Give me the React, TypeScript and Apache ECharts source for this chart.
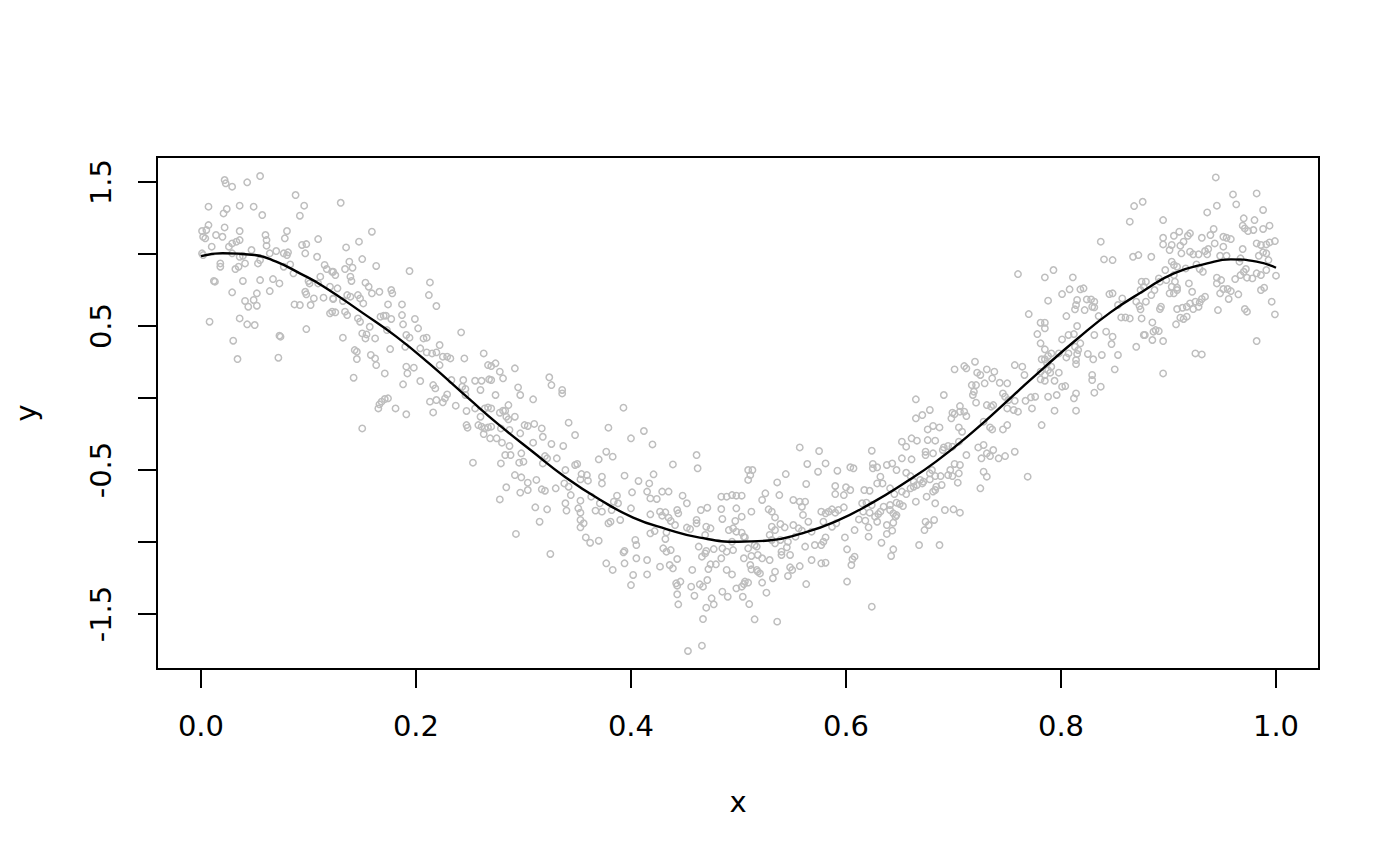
import React, { useEffect, useRef } from "react";
import * as echarts from "echarts";

// Tick values
const xTicks = [0, 0.2, 0.4, 0.6, 0.8, 1.0];
const yTicks = [-1.5, -1.0, -0.5, 0, 0.5, 1.0, 1.5];
const yLabels = [-1.5, -0.5, 0.5, 1.5];

// Scatter points (x, y), grouped by x range
const pointsA = [[0.022,1.514],[0.023,1.491],[0.029,1.468],[0.043,1.498],[0.055,1.542],[0.088,1.41],[0.096,1.336],[0.092,1.266],[0.007,1.329],[0.021,1.282],[0.024,1.313],[0.036,1.336],[0.049,1.329],[0.057,1.271],[0.001,1.16],[0.007,1.201],[0.005,1.167],[0.002,1.12],[0.014,1.132],[0.020,1.12],[0.022,1.185],[0.036,1.16],[0.029,1.074],[0.033,1.086],[0.036,1.097],[0.026,1.051],[0.010,1.051],[0.004,1.109],[0.060,1.132],[0.061,1.097],[0.080,1.16],[0.078,1.109],[0.061,1.058],[0.094,1.063],[0.098,1.069],[0.109,1.104],[0.001,1.005],[0.002,0.993],[0.029,1.005],[0.039,0.988],[0.036,0.981],[0.047,1.028],[0.055,0.958],[0.053,0.935],[0.041,0.935],[0.064,1.005],[0.070,1.021],[0.077,1.005],[0.081,1.012],[0.080,0.993],[0.097,1.005],[0.108,0.981],[0.018,0.935],[0.018,0.912],[0.032,0.896],[0.035,0.912],[0.083,0.928],[0.086,0.866],[0.077,0.912],[0.115,0.924],[0.117,0.896],[0.122,0.877],[0.111,0.843],[0.012,0.813],[0.013,0.808],[0.039,0.813],[0.055,0.819],[0.067,0.826],[0.073,0.796],[0.100,0.813],[0.101,0.796],[0.109,0.796],[0.120,0.773],[0.029,0.734],[0.052,0.727],[0.064,0.743],[0.097,0.738],[0.098,0.72],[0.105,0.692],[0.114,0.697],[0.123,0.692],[0.041,0.674],[0.049,0.681],[0.044,0.634],[0.052,0.641],[0.087,0.65],[0.092,0.646],[0.102,0.646],[0.120,0.588],[0.008,0.53],[0.036,0.553],[0.043,0.512],[0.050,0.507],[0.098,0.479],[0.030,0.398],[0.073,0.433],[0.074,0.426],[0.034,0.271],[0.072,0.28]];

const pointsB = [[0.130,1.356],[0.159,1.155],[0.147,1.086],[0.135,1.046],[0.150,0.965],[0.163,0.917],[0.138,0.947],[0.134,0.896],[0.141,0.905],[0.194,0.882],[0.123,0.877],[0.125,0.854],[0.139,0.843],[0.140,0.813],[0.153,0.801],[0.156,0.773],[0.127,0.762],[0.213,0.803],[0.212,0.715],[0.219,0.639],[0.159,0.727],[0.166,0.738],[0.177,0.75],[0.178,0.727],[0.136,0.715],[0.139,0.704],[0.146,0.715],[0.148,0.692],[0.123,0.688],[0.132,0.674],[0.151,0.657],[0.174,0.65],[0.187,0.65],[0.122,0.6],[0.125,0.595],[0.134,0.6],[0.136,0.576],[0.146,0.553],[0.148,0.53],[0.167,0.565],[0.170,0.572],[0.172,0.572],[0.177,0.549],[0.187,0.576],[0.188,0.512],[0.199,0.549],[0.202,0.484],[0.157,0.495],[0.150,0.449],[0.153,0.414],[0.154,0.442],[0.162,0.414],[0.132,0.419],[0.173,0.472],[0.191,0.438],[0.194,0.419],[0.207,0.414],[0.210,0.419],[0.242,0.456],[0.190,0.356],[0.204,0.345],[0.176,0.34],[0.210,0.317],[0.215,0.31],[0.219,0.317],[0.222,0.368],[0.225,0.287],[0.229,0.287],[0.232,0.275],[0.245,0.275],[0.143,0.333],[0.145,0.322],[0.145,0.271],[0.158,0.299],[0.162,0.275],[0.163,0.229],[0.222,0.229],[0.171,0.171],[0.191,0.218],[0.198,0.211],[0.192,0.171],[0.188,0.095],[0.204,0.118],[0.216,0.09],[0.218,0.067],[0.142,0.141],[0.233,0.125],[0.244,0.125],[0.243,0.079],[0.246,0.063],[0.229,0.025],[0.227,-0.002],[0.219,-0.014],[0.213,-0.025],[0.225,-0.03],[0.237,-0.053],[0.216,-0.1],[0.247,-0.09],[0.166,-0.044],[0.168,-0.025],[0.171,-0.007],[0.174,-0.002],[0.165,-0.072],[0.181,-0.072],[0.191,-0.113],[0.150,-0.211],[0.247,-0.188],[0.248,-0.206]];

const pointsC = [[0.246,0.021],[0.263,0.31],[0.267,0.229],[0.270,0.222],[0.274,0.241],[0.278,0.183],[0.281,0.137],[0.292,0.206],[0.255,0.12],[0.261,0.12],[0.268,0.13],[0.270,0.125],[0.260,0.056],[0.274,0.021],[0.295,0.074],[0.297,0.021],[0.309,-0.009],[0.324,0.144],[0.326,0.09],[0.336,0.056],[0.336,0.032],[0.255,-0.072],[0.264,-0.072],[0.267,-0.065],[0.270,-0.072],[0.260,-0.13],[0.278,-0.102],[0.281,-0.088],[0.283,-0.088],[0.286,-0.049],[0.284,-0.13],[0.292,-0.13],[0.286,-0.148],[0.258,-0.188],[0.261,-0.199],[0.264,-0.211],[0.267,-0.204],[0.270,-0.199],[0.263,-0.25],[0.269,-0.28],[0.275,-0.28],[0.279,-0.211],[0.287,-0.222],[0.297,-0.245],[0.301,-0.188],[0.304,-0.194],[0.310,-0.18],[0.317,-0.211],[0.318,-0.269],[0.342,-0.171],[0.348,-0.257],[0.280,-0.31],[0.287,-0.333],[0.298,-0.384],[0.309,-0.31],[0.326,-0.319],[0.337,-0.333],[0.253,-0.449],[0.279,-0.454],[0.283,-0.396],[0.288,-0.396],[0.296,-0.449],[0.300,-0.442],[0.292,-0.535],[0.298,-0.551],[0.304,-0.588],[0.312,-0.569],[0.320,-0.403],[0.322,-0.419],[0.318,-0.454],[0.331,-0.419],[0.339,-0.5],[0.348,-0.465],[0.350,-0.458],[0.354,-0.528],[0.359,-0.535],[0.353,-0.565],[0.360,-0.574],[0.284,-0.62],[0.297,-0.657],[0.304,-0.639],[0.317,-0.634],[0.320,-0.644],[0.330,-0.627],[0.338,-0.593],[0.342,-0.616],[0.344,-0.674],[0.353,-0.713],[0.339,-0.731],[0.340,-0.782],[0.351,-0.766],[0.353,-0.796],[0.367,-0.782],[0.278,-0.704],[0.311,-0.759],[0.322,-0.773],[0.315,-0.859],[0.353,-0.847],[0.356,-0.87],[0.353,-0.898],[0.293,-0.944],[0.358,-0.968],[0.362,-1.005],[0.370,-0.991],[0.325,-1.083],[0.363,-0.685],[0.371,-0.731],[0.373,-0.789],[0.370,-0.426],[0.373,-0.546],[0.373,-0.593]];

const pointsD = [[0.393,-0.067],[0.379,-0.206],[0.400,-0.28],[0.412,-0.229],[0.420,-0.322],[0.377,-0.373],[0.383,-0.407],[0.439,-0.461],[0.461,-0.396],[0.462,-0.488],[0.394,-0.539],[0.407,-0.576],[0.417,-0.593],[0.421,-0.53],[0.415,-0.65],[0.418,-0.697],[0.424,-0.701],[0.429,-0.65],[0.435,-0.65],[0.401,-0.655],[0.387,-0.678],[0.388,-0.731],[0.384,-0.72],[0.400,-0.766],[0.382,-0.778],[0.390,-0.847],[0.381,-0.859],[0.379,-0.87],[0.448,-0.678],[0.452,-0.731],[0.465,-0.778],[0.471,-0.762],[0.484,-0.685],[0.489,-0.685],[0.494,-0.674],[0.498,-0.678],[0.484,-0.771],[0.498,-0.766],[0.418,-0.808],[0.427,-0.789],[0.432,-0.794],[0.429,-0.817],[0.435,-0.831],[0.437,-0.854],[0.443,-0.778],[0.444,-0.801],[0.441,-0.882],[0.418,-0.94],[0.422,-0.924],[0.433,-0.933],[0.432,-0.979],[0.452,-0.9],[0.455,-0.91],[0.461,-0.847],[0.461,-0.87],[0.470,-0.894],[0.474,-0.905],[0.469,-0.951],[0.485,-0.84],[0.491,-0.917],[0.495,-0.905],[0.497,-0.854],[0.498,-0.928],[0.494,-0.998],[0.404,-0.986],[0.405,-1.021],[0.394,-1.062],[0.393,-1.072],[0.430,-1.044],[0.433,-1.067],[0.437,-1.056],[0.443,-1.118],[0.436,-1.16],[0.439,-1.183],[0.427,-1.171],[0.415,-1.125],[0.405,-1.113],[0.377,-1.148],[0.383,-1.194],[0.394,-1.148],[0.402,-1.229],[0.415,-1.225],[0.463,-1.032],[0.466,-1.102],[0.469,-1.079],[0.470,-1.062],[0.477,-1.049],[0.485,-1.044],[0.489,-1.067],[0.495,-1.056],[0.474,-1.155],[0.479,-1.155],[0.472,-1.188],[0.484,-1.113],[0.489,-1.194],[0.494,-1.225],[0.457,-1.194],[0.442,-1.287],[0.446,-1.275],[0.443,-1.303],[0.456,-1.31],[0.464,-1.294],[0.467,-1.31],[0.471,-1.264],[0.400,-1.299],[0.443,-1.363],[0.459,-1.373],[0.475,-1.391],[0.477,-1.433],[0.470,-1.456],[0.485,-1.345],[0.490,-1.38],[0.444,-1.433],[0.467,-1.535],[0.453,-1.757],[0.466,-1.72],[0.498,-1.322]];

const pointsE = [[0.557,-0.343],[0.575,-0.368],[0.564,-0.458],[0.581,-0.454],[0.509,-0.5],[0.511,-0.535],[0.513,-0.5],[0.509,-0.569],[0.536,-0.586],[0.544,-0.528],[0.563,-0.597],[0.574,-0.512],[0.592,-0.505],[0.604,-0.481],[0.607,-0.488],[0.624,-0.366],[0.625,-0.458],[0.625,-0.488],[0.590,-0.611],[0.600,-0.62],[0.604,-0.639],[0.590,-0.667],[0.598,-0.674],[0.617,-0.639],[0.622,-0.644],[0.503,-0.678],[0.525,-0.662],[0.522,-0.708],[0.538,-0.674],[0.551,-0.708],[0.557,-0.72],[0.562,-0.72],[0.559,-0.755],[0.503,-0.824],[0.512,-0.789],[0.528,-0.773],[0.531,-0.789],[0.534,-0.829],[0.560,-0.812],[0.565,-0.859],[0.577,-0.789],[0.581,-0.801],[0.584,-0.789],[0.587,-0.773],[0.590,-0.796],[0.593,-0.778],[0.598,-0.759],[0.615,-0.731],[0.619,-0.727],[0.624,-0.743],[0.616,-0.789],[0.622,-0.796],[0.503,-0.935],[0.539,-0.875],[0.543,-0.898],[0.531,-0.894],[0.534,-0.917],[0.551,-0.882],[0.556,-0.905],[0.559,-0.921],[0.568,-0.928],[0.579,-0.859],[0.587,-0.894],[0.591,-0.87],[0.612,-0.843],[0.618,-0.852],[0.621,-0.898],[0.608,-0.917],[0.529,-0.951],[0.531,-0.986],[0.539,-0.986],[0.546,-0.998],[0.534,-1.009],[0.506,-0.968],[0.505,-0.963],[0.509,-1.044],[0.517,-1.032],[0.515,-1.021],[0.545,-1.037],[0.540,-1.067],[0.548,-1.09],[0.540,-1.09],[0.553,-0.963],[0.562,-1.032],[0.571,-1.021],[0.577,-1.021],[0.579,-0.998],[0.581,-0.968],[0.599,-0.968],[0.621,-0.963],[0.601,-1.051],[0.608,-1.102],[0.606,-1.12],[0.605,-1.16],[0.577,-1.148],[0.581,-1.144],[0.568,-1.125],[0.557,-1.167],[0.548,-1.176],[0.550,-1.194],[0.546,-1.236],[0.505,-1.113],[0.512,-1.097],[0.518,-1.09],[0.522,-1.113],[0.529,-1.125],[0.511,-1.16],[0.512,-1.19],[0.517,-1.194],[0.518,-1.206],[0.520,-1.218],[0.534,-1.206],[0.532,-1.252],[0.506,-1.275],[0.505,-1.292],[0.503,-1.31],[0.522,-1.282],[0.509,-1.282],[0.563,-1.292],[0.601,-1.275],[0.526,-1.352],[0.504,-1.38],[0.510,-1.431],[0.515,-1.537],[0.536,-1.553],[0.624,-1.449]];

const pointsF = [[0.701,0.199],[0.710,0.222],[0.712,0.206],[0.720,0.252],[0.722,0.176],[0.725,0.16],[0.731,0.199],[0.738,0.183],[0.736,0.137],[0.743,0.106],[0.750,0.102],[0.717,0.09],[0.721,0.09],[0.719,0.044],[0.718,0.021],[0.729,0.102],[0.746,0.032],[0.748,0.009],[0.665,-0.009],[0.691,0.021],[0.721,-0.032],[0.731,-0.049],[0.735,-0.06],[0.737,-0.049],[0.750,-0.072],[0.751,-0.014],[0.678,-0.083],[0.671,-0.118],[0.665,-0.141],[0.699,-0.102],[0.701,-0.111],[0.706,-0.095],[0.710,-0.095],[0.712,-0.125],[0.698,-0.141],[0.706,-0.056],[0.728,-0.164],[0.734,-0.204],[0.736,-0.218],[0.746,-0.218],[0.750,-0.188],[0.676,-0.218],[0.681,-0.194],[0.687,-0.204],[0.705,-0.204],[0.708,-0.234],[0.652,-0.303],[0.656,-0.338],[0.661,-0.28],[0.666,-0.296],[0.676,-0.292],[0.683,-0.296],[0.674,-0.373],[0.674,-0.396],[0.681,-0.384],[0.690,-0.361],[0.691,-0.343],[0.695,-0.333],[0.699,-0.338],[0.705,-0.303],[0.712,-0.396],[0.723,-0.343],[0.728,-0.326],[0.731,-0.384],[0.737,-0.361],[0.742,-0.419],[0.748,-0.403],[0.734,-0.403],[0.726,-0.419],[0.629,-0.481],[0.638,-0.465],[0.643,-0.454],[0.652,-0.419],[0.661,-0.426],[0.647,-0.5],[0.656,-0.519],[0.660,-0.542],[0.663,-0.581],[0.669,-0.569],[0.671,-0.593],[0.678,-0.523],[0.680,-0.5],[0.683,-0.542],[0.678,-0.565],[0.688,-0.542],[0.697,-0.5],[0.701,-0.458],[0.706,-0.465],[0.705,-0.523],[0.695,-0.535],[0.699,-0.542],[0.704,-0.588],[0.728,-0.512],[0.731,-0.546],[0.725,-0.627],[0.632,-0.546],[0.629,-0.593],[0.634,-0.593],[0.641,-0.627],[0.645,-0.667],[0.652,-0.65],[0.656,-0.667],[0.660,-0.627],[0.663,-0.616],[0.666,-0.604],[0.672,-0.581],[0.675,-0.685],[0.683,-0.639],[0.684,-0.616],[0.689,-0.604],[0.681,-0.65],[0.665,-0.72],[0.683,-0.731],[0.647,-0.727],[0.650,-0.736],[0.653,-0.75],[0.641,-0.743],[0.635,-0.755],[0.632,-0.789],[0.630,-0.806],[0.627,-0.824],[0.641,-0.778],[0.644,-0.801],[0.646,-0.824],[0.647,-0.813],[0.644,-0.866],[0.629,-0.859],[0.638,-0.882],[0.643,-0.921],[0.674,-0.859],[0.677,-0.882],[0.682,-0.847],[0.673,-0.917],[0.692,-0.778],[0.700,-0.773],[0.706,-0.796],[0.638,-0.944],[0.633,-1.005],[0.668,-1.021],[0.687,-1.021],[0.644,-1.051],[0.642,-1.097]];

const pointsG = [[0.868,1.333],[0.876,1.363],[0.864,1.225],[0.837,1.086],[0.840,0.963],[0.848,0.958],[0.867,0.981],[0.872,0.993],[0.760,0.861],[0.785,0.838],[0.793,0.889],[0.811,0.838],[0.875,0.808],[0.877,0.773],[0.874,0.75],[0.808,0.755],[0.801,0.722],[0.818,0.755],[0.821,0.762],[0.788,0.676],[0.815,0.681],[0.814,0.646],[0.813,0.616],[0.824,0.685],[0.828,0.685],[0.831,0.669],[0.829,0.634],[0.831,0.63],[0.822,0.611],[0.805,0.569],[0.835,0.569],[0.845,0.722],[0.848,0.727],[0.857,0.692],[0.853,0.646],[0.856,0.56],[0.860,0.56],[0.864,0.553],[0.870,0.669],[0.873,0.639],[0.874,0.616],[0.875,0.553],[0.770,0.583],[0.781,0.523],[0.785,0.523],[0.785,0.484],[0.778,0.444],[0.815,0.5],[0.807,0.438],[0.801,0.407],[0.812,0.444],[0.818,0.38],[0.813,0.356],[0.816,0.333],[0.815,0.306],[0.805,0.282],[0.807,0.31],[0.798,0.31],[0.791,0.31],[0.781,0.38],[0.785,0.338],[0.788,0.292],[0.782,0.269],[0.785,0.269],[0.787,0.241],[0.842,0.461],[0.848,0.426],[0.847,0.375],[0.831,0.438],[0.825,0.306],[0.830,0.269],[0.838,0.299],[0.853,0.299],[0.870,0.356],[0.877,0.438],[0.757,0.229],[0.764,0.218],[0.766,0.16],[0.781,0.183],[0.785,0.16],[0.781,0.13],[0.785,0.12],[0.788,0.194],[0.790,0.176],[0.791,0.218],[0.798,0.176],[0.794,0.12],[0.801,0.079],[0.804,0.083],[0.814,0.264],[0.814,0.236],[0.829,0.16],[0.829,0.125],[0.837,0.079],[0.831,0.037],[0.814,0.032],[0.812,-0.002],[0.850,0.199],[0.757,-0.019],[0.756,-0.083],[0.760,-0.095],[0.767,-0.019],[0.772,0.005],[0.776,0.009],[0.773,-0.072],[0.788,0.009],[0.796,0.021],[0.794,-0.088],[0.814,-0.088],[0.782,-0.188],[0.757,-0.373],[0.769,-0.546]];

const pointsH = [[0.944,1.532],[0.960,1.414],[0.982,1.421],[0.945,1.336],[0.963,1.345],[0.936,1.289],[0.988,1.306],[0.895,1.236],[0.970,1.248],[0.980,1.236],[0.969,1.197],[0.971,1.178],[0.974,1.16],[0.979,1.167],[0.988,1.174],[0.994,1.197],[0.942,1.174],[0.939,1.132],[0.931,1.113],[0.920,1.144],[0.918,1.127],[0.910,1.155],[0.905,1.127],[0.895,1.113],[0.895,1.067],[0.903,1.063],[0.901,1.028],[0.911,1.058],[0.914,1.086],[0.920,1.016],[0.923,0.998],[0.928,0.998],[0.912,1.005],[0.934,1.021],[0.936,0.998],[0.937,1.035],[0.943,1.074],[0.951,1.12],[0.954,1.113],[0.958,1.104],[0.951,1.051],[0.948,0.988],[0.954,0.988],[0.969,1.035],[0.982,1.074],[0.986,1.063],[0.991,1.067],[0.994,1.081],[0.999,1.09],[0.988,1.012],[0.984,0.988],[0.991,1.005],[0.993,0.958],[0.967,0.97],[0.966,0.947],[0.884,0.981],[0.903,0.947],[0.905,0.924],[0.908,0.912],[0.897,0.889],[0.891,0.831],[0.892,0.808],[0.898,0.819],[0.905,0.854],[0.906,0.808],[0.903,0.773],[0.908,0.766],[0.916,0.9],[0.926,0.928],[0.929,0.896],[0.932,0.877],[0.919,0.796],[0.922,0.738],[0.901,0.727],[0.905,0.727],[0.908,0.75],[0.884,0.715],[0.887,0.75],[0.879,0.808],[0.893,0.634],[0.892,0.618],[0.879,0.669],[0.945,0.836],[0.949,0.819],[0.945,0.796],[0.948,0.727],[0.951,0.757],[0.955,0.757],[0.958,0.743],[0.956,0.688],[0.962,0.826],[0.967,0.854],[0.970,0.877],[0.972,0.896],[0.973,0.836],[0.978,0.831],[0.982,0.866],[0.986,0.854],[0.991,0.889],[1.000,0.85],[0.986,0.75],[0.989,0.766],[0.965,0.72],[0.934,0.704],[0.931,0.688],[0.925,0.669],[0.920,0.657],[0.917,0.634],[0.913,0.627],[0.908,0.618],[0.911,0.558],[0.914,0.549],[0.917,0.565],[0.923,0.618],[0.928,0.634],[0.929,0.664],[0.946,0.611],[0.971,0.618],[0.973,0.6],[0.996,0.669],[0.999,0.581],[0.885,0.525],[0.907,0.512],[0.886,0.461],[0.888,0.472],[0.891,0.465],[0.878,0.438],[0.885,0.403],[0.895,0.396],[0.925,0.31],[0.931,0.303],[0.982,0.396],[0.895,0.171]];

// Fitted curve
const curveX = [0, 0.02, 0.05, 0.07, 0.092, 0.114, 0.151, 0.182, 0.213, 0.25, 0.277, 0.308, 0.339, 0.372, 0.402, 0.433, 0.464, 0.5, 0.528, 0.559, 0.59, 0.625, 0.653, 0.684, 0.718, 0.753, 0.784, 0.815, 0.846, 0.877, 0.905, 0.936, 0.958, 0.982, 1.0];
const curveY = [0.985, 1.005, 0.993, 0.947, 0.866, 0.775, 0.588, 0.425, 0.235, -0.01, -0.185, -0.37, -0.55, -0.71, -0.83, -0.91, -0.97, -0.998, -0.99, -0.94, -0.859, -0.725, -0.597, -0.44, -0.235, 0.0, 0.21, 0.41, 0.595, 0.745, 0.866, 0.935, 0.963, 0.947, 0.905];

const FONT = "DejaVu Sans";

export default function App() {
  const ref = useRef<HTMLDivElement>(null);
  useEffect(() => {
    if (!ref.current) return;
    const chart = echarts.init(ref.current, null, { renderer: "svg" });
    const points = [...pointsA, ...pointsB, ...pointsC, ...pointsD, ...pointsE, ...pointsF, ...pointsG, ...pointsH];
    const curve = curveX.map((x, i) => [x, curveY[i]]);
    chart.setOption({
      animation: false,
      backgroundColor: "#ffffff",
      grid: {
        left: 157,
        top: 157,
        width: 1162,
        height: 512,
        show: true,
        borderColor: "#000",
        borderWidth: 2,
        backgroundColor: "transparent",
      },
      xAxis: {
        type: "value",
        min: -0.0409,
        max: 1.04,
        splitLine: { show: false },
        axisLine: { show: false, onZero: false },
        axisTick: {
          show: true,
          length: 19,
          lineStyle: { color: "#000", width: 2 },
          customValues: xTicks,
        },
        axisLabel: {
          customValues: xTicks,
          formatter: (v: number) => v.toFixed(1),
          fontSize: 29,
          fontFamily: FONT,
          color: "#000",
          margin: 42,
        },
        name: "x",
        nameLocation: "middle",
        nameGap: 118,
        nameTextStyle: { fontSize: 29, fontFamily: FONT, color: "#000" },
      },
      yAxis: {
        type: "value",
        min: -1.882,
        max: 1.674,
        splitLine: { show: false },
        axisLine: { show: false, onZero: false },
        axisTick: {
          show: true,
          length: 19,
          lineStyle: { color: "#000", width: 2 },
          customValues: yTicks,
        },
        axisLabel: {
          customValues: yLabels,
          formatter: (v: number) => v.toFixed(1),
          fontSize: 29,
          fontFamily: FONT,
          color: "#000",
          rotate: 90,
          margin: 42,
        },
        name: "y",
        nameLocation: "middle",
        nameGap: 117,
        nameTextStyle: { fontSize: 29, fontFamily: FONT, color: "#000" },
      },
      series: [
        {
          type: "scatter",
          data: points,
          symbol: "circle",
          symbolSize: 6.4,
          silent: true,
          itemStyle: { color: "rgba(255,255,255,0)", borderColor: "#BEBEBE", borderWidth: 1.5, opacity: 1 },
          emphasis: { disabled: true },
          z: 2,
        },
        {
          type: "line",
          data: curve,
          showSymbol: false,
          smooth: true,
          silent: true,
          lineStyle: { color: "#000", width: 2.4 },
          emphasis: { disabled: true },
          z: 3,
        },
      ],
    });
    return () => chart.dispose();
  }, []);
  return (
    <div
      ref={ref}
      style={{ position: "absolute", left: 0, top: 0, width: 1400, height: 866, background: "#fff" }}
    />
  );
}
